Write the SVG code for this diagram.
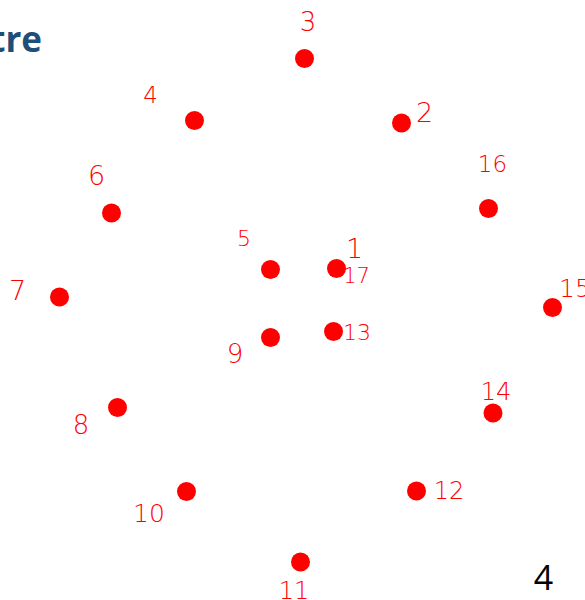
<svg xmlns="http://www.w3.org/2000/svg" width="585" height="600" viewBox="0 0 585 600">
<style>
.dot{fill:#ff0000}
.lbl{fill:#ff0000;font-family:"DejaVu Sans",sans-serif;font-weight:200;text-anchor:middle}
</style>
<rect width="585" height="600" fill="#ffffff"/>
<text x="42" y="52" font-family="'Open Sans',sans-serif" font-weight="bold" font-size="35" fill="#1f4e79" text-anchor="end">tre</text>
<text x="543.5" y="590" font-family="'Open Sans',sans-serif" font-size="34" fill="#000000" text-anchor="middle">4</text>
<g id="connectors"></g>
<g id="n1"><circle class="dot" cx="336.5" cy="268.5" r="9.5"/><text class="lbl" x="354.5" y="258" font-size="27">1</text></g>
<g id="n2"><circle class="dot" cx="401.5" cy="123" r="9.5"/><text class="lbl" x="424.5" y="122" font-size="27">2</text></g>
<g id="n3"><circle class="dot" cx="304.5" cy="58.5" r="9.5"/><text class="lbl" x="308" y="31" font-size="26">3</text></g>
<g id="n4"><circle class="dot" cx="194.5" cy="120.5" r="9.5"/><text class="lbl" x="150.5" y="103" font-size="23">4</text></g>
<g id="n5"><circle class="dot" cx="270.5" cy="269.5" r="9.5"/><text class="lbl" x="244" y="246" font-size="22">5</text></g>
<g id="n6"><circle class="dot" cx="111.5" cy="213" r="9.5"/><text class="lbl" x="96.5" y="185" font-size="27">6</text></g>
<g id="n7"><circle class="dot" cx="59.5" cy="297" r="9.5"/><text class="lbl" x="17.5" y="300" font-size="27">7</text></g>
<g id="n8"><circle class="dot" cx="117.5" cy="407.5" r="9.5"/><text class="lbl" x="81" y="434" font-size="26">8</text></g>
<g id="n9"><circle class="dot" cx="270.5" cy="337.5" r="9.5"/><text class="lbl" x="235" y="363" font-size="26">9</text></g>
<g id="n10"><circle class="dot" cx="186.5" cy="491.5" r="9.5"/><text class="lbl" x="149" y="522" font-size="25">10</text></g>
<g id="n11"><circle class="dot" cx="300.5" cy="562" r="9.5"/><text class="lbl" x="294" y="599" font-size="24">11</text></g>
<g id="n12"><circle class="dot" cx="416.5" cy="491" r="9.5"/><text class="lbl" x="449" y="499" font-size="24">12</text></g>
<g id="n13"><circle class="dot" cx="333.5" cy="331.5" r="9.5"/><text class="lbl" x="357" y="340" font-size="22">13</text></g>
<g id="n14"><circle class="dot" cx="493" cy="413" r="9.5"/><text class="lbl" x="496" y="400" font-size="24">14</text></g>
<g id="n15"><circle class="dot" cx="552.5" cy="307.5" r="9.5"/><text class="lbl" x="575" y="297" font-size="25">15</text></g>
<g id="n16"><circle class="dot" cx="488.5" cy="208.5" r="9.5"/><text class="lbl" x="492.5" y="172" font-size="23">16</text></g>
<g id="n17"><text class="lbl" x="356.5" y="283" font-size="21">17</text></g>
</svg>
